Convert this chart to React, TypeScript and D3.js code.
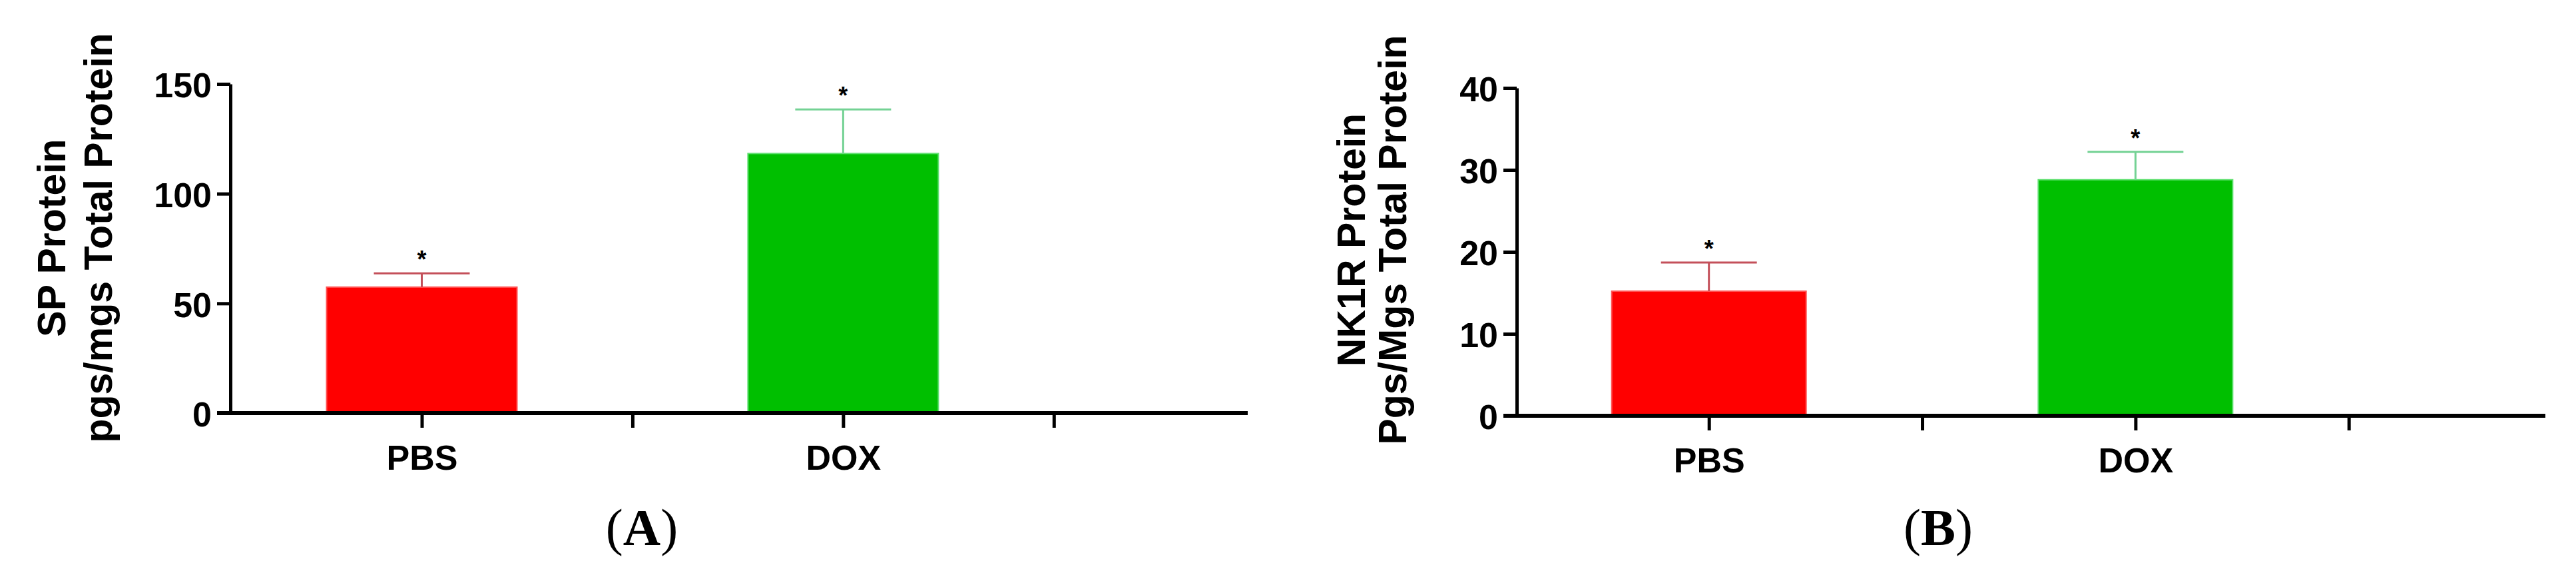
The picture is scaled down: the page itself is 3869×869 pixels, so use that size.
import React, { useEffect, useRef } from "react";
import * as d3 from "d3";

// category slots on the x axis (gaps are empty slots with ticks only)
const slots = ["PBS", "gap1", "DOX", "gap2"];
const groups = ["PBS", "DOX"];
const barColors = ["#ff0000", "#00bf00"];
const barEdges = ["#ff5050", "#60e070"];
const errColors = ["#c4505a", "#74d294"];

// panel A
const spMeans = [57.4, 118.3];
const spErrors = [6.3, 20.1];
const spTicks = [0, 50, 100, 150];

// panel B
const nk1rMeans = [15.2, 28.8];
const nk1rErrors = [3.5, 3.4];
const nk1rTicks = [0, 10, 20, 30, 40];

const panels = [
  {
    id: "A",
    means: spMeans,
    errors: spErrors,
    ticks: spTicks,
    yMax: 150,
    yAxisX: 346,
    yRange: [620, 126],
    xRange: [633.5, 1582.8],
    xAxisEnd: 1874,
    barWidth: 286,
    labels: ["SP Protein", "pgs/mgs Total Protein"],
    labelX: [98, 168],
    labelY: 357,
    tagX: 964
  },
  {
    id: "B",
    means: nk1rMeans,
    errors: nk1rErrors,
    ticks: nk1rTicks,
    yMax: 40,
    yAxisX: 2278,
    yRange: [624, 132],
    xRange: [2566.7, 3527.7],
    xAxisEnd: 3823,
    barWidth: 292,
    labels: ["NK1R Protein", "Pgs/Mgs Total Protein"],
    labelX: [2050, 2112],
    labelY: 360,
    tagX: 2911
  }
];

const font = "'Liberation Sans', Arial, sans-serif";

export default function App() {
  const ref = useRef<SVGSVGElement>(null);

  useEffect(() => {
    const svg = d3.select(ref.current);
    svg.selectAll("*").remove();

    panels.forEach(p => {
      const y = d3.scaleLinear().domain([0, p.yMax]).range(p.yRange);
      const x = d3.scalePoint().domain(slots).range(p.xRange);
      const g = svg.append("g");

      // bars
      g.selectAll("rect.bar")
        .data(groups)
        .enter()
        .append("rect")
        .attr("class", "bar")
        .attr("x", d => x(d) - p.barWidth / 2)
        .attr("width", p.barWidth)
        .attr("y", (d, i) => y(p.means[i]))
        .attr("height", (d, i) => y(0) - y(p.means[i]))
        .attr("fill", (d, i) => barColors[i])
        .attr("stroke", (d, i) => barEdges[i])
        .attr("stroke-width", 2);

      // error bars (upper only)
      groups.forEach((d, i) => {
        const cx = x(d);
        const top = y(p.means[i] + p.errors[i]);
        g.append("line")
          .attr("x1", cx).attr("x2", cx)
          .attr("y1", y(p.means[i])).attr("y2", top)
          .attr("stroke", errColors[i]).attr("stroke-width", 3);
        g.append("line")
          .attr("x1", cx - 72).attr("x2", cx + 72)
          .attr("y1", top).attr("y2", top)
          .attr("stroke", errColors[i]).attr("stroke-width", 3);
        g.append("text")
          .attr("x", cx)
          .attr("y", top - 8)
          .attr("text-anchor", "middle")
          .style("font-family", font)
          .style("font-weight", "bold")
          .style("font-size", "36px")
          .text("*");
      });

      // y axis
      const yAxis = d3.axisLeft(y).tickValues(p.ticks).tickSize(20).tickPadding(8).tickSizeOuter(0);
      const ya = g.append("g").attr("transform", `translate(${p.yAxisX},0)`).call(yAxis);
      ya.select(".domain").attr("stroke-width", 5).attr("stroke", "#000");
      ya.selectAll(".tick line").attr("stroke-width", 5);
      ya.selectAll(".tick text")
        .style("font-family", font)
        .style("font-weight", "bold")
        .style("font-size", "52px")
        .attr("dy", "0.38em");

      // x axis
      g.append("line")
        .attr("x1", p.yAxisX - 20).attr("x2", p.xAxisEnd)
        .attr("y1", y(0)).attr("y2", y(0))
        .attr("stroke", "#000").attr("stroke-width", 6);
      const xAxis = d3.axisBottom(x).tickSize(22).tickSizeOuter(0).tickPadding(10)
        .tickFormat(d => (groups.includes(d) ? d : ""));
      const xa = g.append("g").attr("transform", `translate(0,${y(0)})`).call(xAxis);
      xa.select(".domain").remove();
      xa.selectAll(".tick line").attr("stroke-width", 5);
      xa.selectAll(".tick text")
        .style("font-family", font)
        .style("font-weight", "bold")
        .style("font-size", "52px")
        .attr("y", 85)
        .attr("dy", 0);

      // y axis title, two lines
      p.labels.forEach((t, i) => {
        g.append("text")
          .attr("transform", `translate(${p.labelX[i]},${p.labelY}) rotate(-90)`)
          .attr("text-anchor", "middle")
          .style("font-family", font)
          .style("font-weight", "bold")
          .style("font-size", "59px")
          .text(t);
      });

      // panel tag
      const tag = g.append("text")
        .attr("x", p.tagX)
        .attr("y", 818)
        .attr("text-anchor", "middle")
        .style("font-family", "'Liberation Serif', 'Times New Roman', serif")
        .style("font-size", "78px");
      tag.append("tspan").text("(");
      tag.append("tspan").style("font-weight", "bold").text(p.id);
      tag.append("tspan").text(")");
    });
  }, []);

  return (
    <svg
      ref={ref}
      width={3869}
      height={869}
      style={{ position: "absolute", left: 0, top: 0, background: "#fff" }}
    />
  );
}
